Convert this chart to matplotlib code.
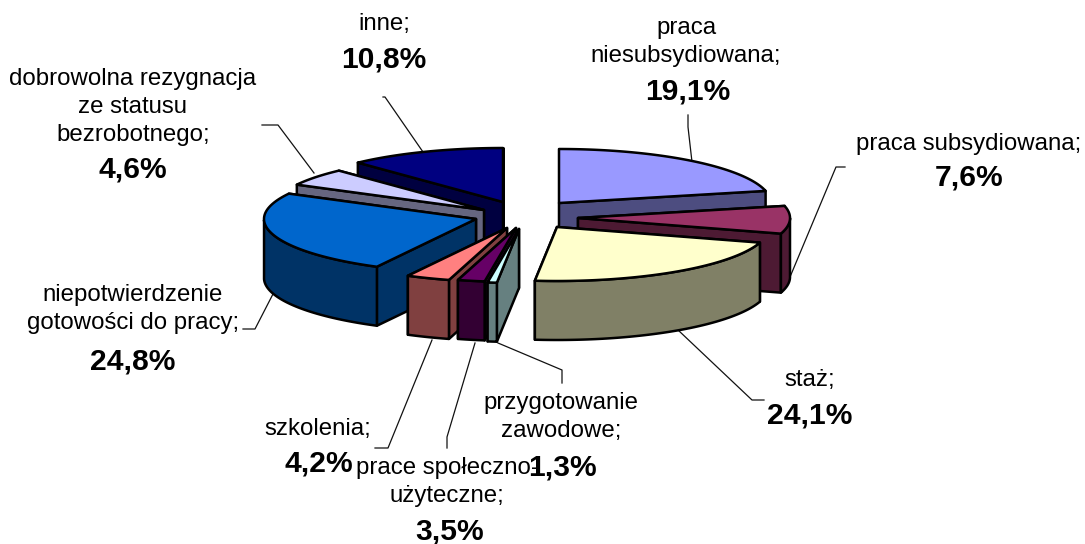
import numpy as np
import matplotlib
matplotlib.use("Agg")
import matplotlib.pyplot as plt
from matplotlib.patches import Polygon

categories = ["praca\nniesubsydiowana;", "praca subsydiowana;", "staż;",
              "przygotowanie\nzawodowe;", "prace społeczno-\nużyteczne;", "szkolenia;",
              "niepotwierdzenie\ngotowości do pracy;",
              "dobrowolna rezygnacja\nze statusu\nbezrobotnego;", "inne;"]
values = [19.1, 7.6, 24.1, 1.3, 3.5, 4.2, 24.8, 4.6, 10.8]
top_colors = ["#9999FF", "#993366", "#FFFFCC", "#CCFFFF", "#660066",
              "#FF8080", "#0066CC", "#CCCCFF", "#000080"]

# layout (pixels)
apex = [(559, 203), (578, 218), (557, 227), (519, 229), (516, 228),
        (507, 228), (476, 219), (484, 210), (503, 202)]
paint_order = [8, 7, 0, 1, 6, 2, 5, 4, 3]
name_pos = [(686, 42), (969, 144), (810, 380), (561, 417), (447, 482),
            (318, 429), (133, 309), (133, 107), (384, 24)]
value_pos = [(688, 91), (969, 178), (810, 416), (562, 467), (450, 532),
             (319, 463), (133, 361), (133, 170), (384, 59)]
leaders = [[(688, 115), (688, 127), (692, 162)],
           [(845, 167), (836, 167), (790, 277)],
           [(764, 400), (752, 400), (678, 330)],
           [(562, 383), (562, 370), (498, 343)],
           [(447, 448), (447, 437), (475, 343)],
           [(375, 448), (388, 448), (432, 340)],
           [(243, 329), (255, 329), (273, 294)],
           [(262, 125), (278, 125), (314, 173)],
           [(383, 97), (385, 97), (423, 152)]]
RX, RY, DEPTH = 212, 54, 59

plt.rcParams["font.family"] = ["Liberation Sans", "DejaVu Sans"]
fig = plt.figure(figsize=(10.85, 5.44), dpi=100)
ax = fig.add_axes([0, 0, 1, 1])
ax.set_xlim(0, 1085)
ax.set_ylim(544, 0)
ax.axis("off")


def warp(a):
    """Perspective warp of a pie angle (degrees, clockwise from top)."""
    a = np.asarray(a, float)
    r = np.radians(a)
    m = 1.2 - 0.1 * np.cos(r)
    t = 2 * np.arctan2(m * np.sin(r / 2), np.cos(r / 2))
    return t + np.radians(4) * np.exp(-((a - 180) / 12) ** 2)


def rim(c, a):
    t = warp(a)
    return np.column_stack([c[0] + RX * np.sin(t), c[1] - RY * np.cos(t)])


def shade(color):
    return np.array(matplotlib.colors.to_rgb(color)) * 0.5


def poly(pts, fc, z):
    ax.add_patch(Polygon(pts, closed=True, fc=fc, ec="black", lw=1.8,
                         joinstyle="round", zorder=z))


cum = np.concatenate([[0], np.cumsum(values)]) * 3.6
down = np.array([0, DEPTH])
for z, i in enumerate(paint_order):
    c = np.array(apex[i], float)
    a0, a1 = cum[i], cum[i + 1]
    angles = np.linspace(a0, a1, 80)
    arc = rim(c, angles)
    side = shade(top_colors[i])
    zz = 3 + z * 5
    faces = [np.array([p, c, c + down, p + down]) for p in (arc[0], arc[-1])]
    faces.sort(key=lambda f: f[0][1])
    for f in faces:
        poly(f, side, zz)
    t = warp(angles) % (2 * np.pi)
    mask = (t >= np.pi / 2) & (t <= 3 * np.pi / 2)
    if mask.sum() > 1:
        front = arc[mask]
        poly(np.vstack([front, (front + down)[::-1]]), side, zz + 1)
    poly(np.vstack([c, arc]), top_colors[i], zz + 2)

for pts in leaders:
    xs, ys = zip(*pts)
    ax.plot(xs, ys, color="#111111", lw=0.9, zorder=2)

for name, v, np_, vp in zip(categories, values, name_pos, value_pos):
    ax.text(np_[0], np_[1], name, ha="center", va="center", fontsize=17.3,
            linespacing=1.38, color="black", zorder=100)
    ax.text(vp[0], vp[1], f"{v:.1f}%".replace(".", ","), ha="center", va="center",
            fontsize=21.6, fontweight="bold", color="black", zorder=101)

fig.savefig("out.png", dpi=100)
